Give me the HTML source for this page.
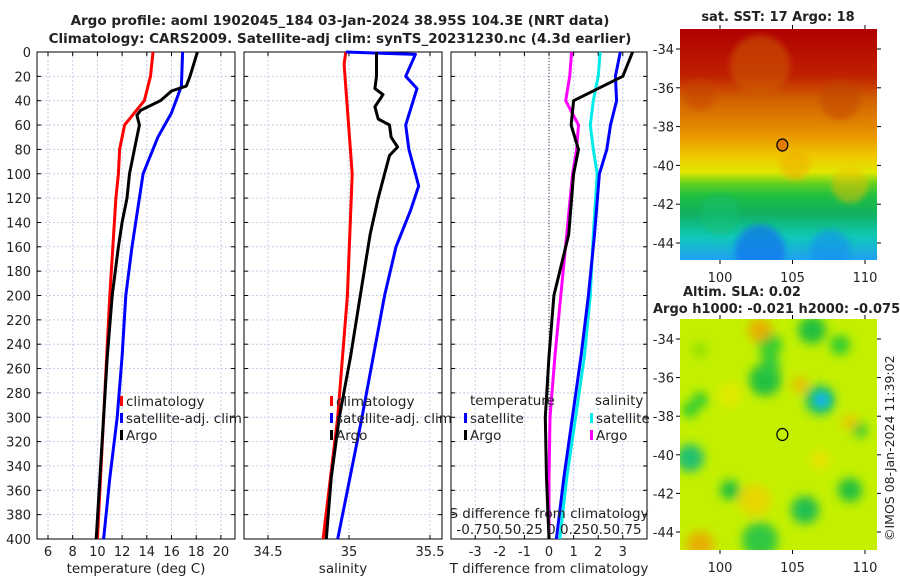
<!DOCTYPE html>
<html><head><meta charset="utf-8"><style>
body{margin:0;background:#fff;width:900px;height:580px;overflow:hidden;font-family:"DejaVu Sans","Liberation Sans",sans-serif}
svg text{font-family:"DejaVu Sans","Liberation Sans",sans-serif;fill:#222}
</style></head><body>
<svg id="s" width="900" height="580" viewBox="0 0 900 580" xmlns="http://www.w3.org/2000/svg">
<defs>
<clipPath id="c1"><rect x="680" y="29" width="197" height="231"/></clipPath>
<clipPath id="c2"><rect x="680" y="319" width="197" height="231"/></clipPath>
<filter id="bl" x="-20%" y="-20%" width="140%" height="140%"><feGaussianBlur stdDeviation="5"/></filter>
<filter id="bl2" x="-20%" y="-20%" width="140%" height="140%"><feGaussianBlur stdDeviation="3"/></filter>
</defs>
<text x="340" y="25" text-anchor="middle" font-size="13.5" font-weight="bold">Argo profile: aoml 1902045_184 03-Jan-2024 38.95S 104.3E (NRT data)</text>
<text x="340" y="43" text-anchor="middle" font-size="13.5" font-weight="bold">Climatology: CARS2009. Satellite-adj clim: synTS_20231230.nc (4.3d earlier)</text>
<g id="maps"></g>
</svg>
<script>
// ---- data ----
const depthTicks=[0,20,40,60,80,100,120,140,160,180,200,220,240,260,280,300,320,340,360,380,400];
const tTicks=[6,8,10,12,14,16,18,20];
const sTicks=[34.5,35,35.5];
const dTicks=[-3,-2,-1,0,1,2,3];
const climTdepth=[0,20,40,60,80,100,120,200,300,400];
const climT=[14.5,14.3,13.8,12.2,11.8,11.7,11.5,11.0,10.5,10.0];
const satTdepth=[0,28,50,70,100,120,160,200,250,300,350,400];
const satT=[16.9,16.8,16.0,14.9,13.7,13.4,12.8,12.3,12.0,11.6,11.0,10.5];
const argoTdepth=[0,20,28,32,40,48,52,60,80,100,120,140,160,200,250,300,350,400];
const argoT=[18.1,17.5,17.2,16.0,15.1,13.5,13.2,13.4,13.0,12.6,12.4,12.0,11.7,11.2,10.8,10.5,10.2,9.9];
const climSdepth=[0,10,100,200,300,400];
const climS=[34.98,34.97,35.02,34.99,34.93,34.84];
const satSdepth=[0,2,20,30,60,80,110,130,160,200,300,400];
const satS=[34.98,35.41,35.35,35.42,35.35,35.37,35.43,35.38,35.29,35.22,35.08,34.93];
const argoSdepth=[0,20,30,35,45,55,60,70,78,85,100,120,150,200,250,300,350,400];
const argoS=[35.17,35.17,35.16,35.21,35.16,35.18,35.25,35.26,35.30,35.25,35.22,35.18,35.13,35.07,35.01,34.94,34.89,34.86];
const diffDepth=[0,20,40,60,80,100,150,200,250,300,350,400];
const argoTdiff=[3.4,3.0,1.0,0.9,1.2,1.0,0.8,0.2,0.0,-0.15,-0.1,0.0];
const satTdiff=[2.9,2.7,2.75,2.5,2.35,2.05,1.85,1.6,1.3,0.95,0.6,0.3];
const satSdiff=[0.52,0.50,0.45,0.42,0.45,0.49,0.45,0.42,0.36,0.27,0.18,0.11];
const argoSdiff=[0.23,0.21,0.17,0.30,0.28,0.24,0.18,0.12,0.06,0.01,0.0,0.0];
const lonTicks=[100,105,110];
const latTicks=[-34,-36,-38,-40,-42,-44];
// ---- drawing ----
const S=document.getElementById('s');const NS='http://www.w3.org/2000/svg';
function el(t,a,p){const e=document.createElementNS(NS,t);for(const k in a)e.setAttribute(k,a[k]);(p||S).appendChild(e);return e;}
const Y0=52,Y1=539;const yD=d=>Y0+d*(Y1-Y0)/400;
const panels=[
 {x0:37,x1:235,fx:v=>48+(v-6)*12.35,ticks:tTicks,lab:'temperature (deg C)',name:'temperature'},
 {x0:244,x1:442,fx:v=>268+(v-34.5)*162,ticks:sTicks,lab:'salinity',name:'salinity'},
 {x0:451,x1:647,fx:v=>549+v*24.6,ticks:dTicks,lab:'T difference from climatology',name:'difference'}];
panels.forEach((p,i)=>{
 const g=el('g',{});
 
 
 depthTicks.forEach(d=>{el('line',{x1:p.x0,x2:p.x1,y1:yD(d),y2:yD(d),stroke:'#c8cde8','stroke-dasharray':'2,2'},g);
  el('line',{x1:p.x0,x2:p.x0+4,y1:yD(d),y2:yD(d),stroke:'#000'},g);el('line',{x1:p.x1,x2:p.x1-4,y1:yD(d),y2:yD(d),stroke:'#000'},g);
  if(i==0){const t=el('text',{x:p.x0-6,y:yD(d)+5,'text-anchor':'end','font-size':13},g);t.textContent=d;}});
 p.ticks.forEach(v=>{const x=p.fx(v);el('line',{x1:x,x2:x,y1:Y0,y2:Y1,stroke:'#c8cde8','stroke-dasharray':'2,2'},g);
  el('line',{x1:x,x2:x,y1:Y1,y2:Y1-4,stroke:'#000'},g);el('line',{x1:x,x2:x,y1:Y0,y2:Y0+4,stroke:'#000'},g);
  const t=el('text',{x:x,y:556,'text-anchor':'middle','font-size':13},g);t.textContent=v;});
 el('rect',{x:p.x0,y:Y0,width:p.x1-p.x0,height:Y1-Y0,fill:'none',stroke:'#000'},g);
 const t=el('text',{x:(p.x0+p.x1)/2,y:573,'text-anchor':'middle','font-size':13.5},g);t.textContent=p.lab;
});
el('line',{x1:549,x2:549,y1:Y0,y2:Y1,stroke:'#333','stroke-dasharray':'1,2'});
function line(p,ds,vs,col,name,sc){const pts=ds.map((d,i)=>p.fx(vs[i]*(sc||1)).toFixed(1)+','+yD(d).toFixed(1)).join(' ');
 const e=el('polyline',{points:pts,fill:'none',stroke:col,'stroke-width':3,'stroke-linejoin':'round'});
 }
const [P1,P2,P3]=panels;
line(P1,climTdepth,climT,'#f00','climatology-temperature-line');
line(P1,satTdepth,satT,'#00f','satellite-temperature-line');
line(P1,argoTdepth,argoT,'#000','argo-temperature-line');
line(P2,climSdepth,climS,'#f00','climatology-salinity-line');
line(P2,satSdepth,satS,'#00f','satellite-salinity-line');
line(P2,argoSdepth,argoS,'#000','argo-salinity-line');
line(P3,diffDepth,satSdiff,'#00eaea','satellite-salinity-diff-line',4);
line(P3,diffDepth,satTdiff,'#00f','satellite-temperature-diff-line');
line(P3,diffDepth,argoSdiff,'#f0f','argo-salinity-diff-line',4);
line(P3,diffDepth,argoTdiff,'#000','argo-temperature-diff-line');
function leg(x,y,col,txt,name){el('rect',{x:x,y:y-9,width:3,height:10,fill:col});const t=el('text',{x:x+6,y:y+1,'font-size':13.5});t.textContent=txt;}
leg(120,405,'#f00','climatology','legend-climatology');leg(120,422,'#00f','satellite-adj. clim','legend-satellite');leg(120,439,'#000','Argo','legend-argo');
leg(330,405,'#f00','climatology','legend-climatology-s');leg(330,422,'#00f','satellite-adj. clim','legend-satellite-s');leg(330,439,'#000','Argo','legend-argo-s');
let tt=el('text',{x:470,y:405,'font-size':13.5});tt.textContent='temperature';
tt=el('text',{x:595,y:405,'font-size':13.5});tt.textContent='salinity';
leg(464,422,'#00f','satellite','legend-t-satellite');leg(464,439,'#000','Argo','legend-t-argo');
leg(590,422,'#00eaea','satellite','legend-s-satellite');leg(590,439,'#f0f','Argo','legend-s-argo');
tt=el('text',{x:549,y:518,'text-anchor':'middle','font-size':13.5});tt.textContent='S difference from climatology';
tt=el('text',{x:549,y:534,'text-anchor':'middle','font-size':13.5});tt.textContent='-0.750.50.25 0 0.250.50.75';
// ---- maps ----
const M=document.getElementById('maps');
function map(y0,y1,lat34,lat44,name,clip,bg){
 const g=el('g',{},M);
 const inner=el('g',{'clip-path':'url(#'+clip+')'},g);
 bg(inner);
 const fy=l=>lat34+(l+34)*(lat44-lat34)/(-10),fx=l=>720+(l-100)*14.5;
 latTicks.forEach(l=>{el('line',{x1:680-4,x2:680,y1:fy(l),y2:fy(l),stroke:'#000'},g);el('line',{x1:877,x2:881,y1:fy(l),y2:fy(l),stroke:'#000'},g);
  const t=el('text',{x:674,y:fy(l)+5,'text-anchor':'end','font-size':13},g);t.textContent=l;});
 lonTicks.forEach(l=>{el('line',{x1:fx(l),x2:fx(l),y1:y1,y2:y1+4,stroke:'#000'},g);el('line',{x1:fx(l),x2:fx(l),y1:y0-4,y2:y0,stroke:'#000'},g);
  const t=el('text',{x:fx(l),y:y1+22,'text-anchor':'middle','font-size':13},g);t.textContent=l;});
 el('ellipse',{cx:fx(104.3),cy:fy(-38.95),rx:5.5,ry:6,fill:name=='sst-map'?'#e07a00':'none',stroke:'#000','stroke-width':1.2},g);
}
map(29,260,49,243,'sst-map','c1',g=>{
 const d=el('defs',{},g);const lg=el('linearGradient',{id:'sst',x1:0,y1:0,x2:0,y2:1},d);
 [[0,'#b00000'],[0.2,'#c02000'],[0.3,'#d06000'],[0.45,'#e89000'],[0.55,'#f0c800'],[0.62,'#e0e800'],[0.67,'#60d020'],[0.72,'#20c040'],[0.8,'#10b060'],[0.9,'#10c8b8'],[1,'#20a0f0']].forEach(s=>el('stop',{offset:s[0],'stop-color':s[1]},lg));
 el('rect',{x:680,y:29,width:197,height:231,fill:'url(#sst)'},g);
 const b=el('g',{filter:'url(#bl2)'},g);
 [[760,65,30,'#d06000',0.5],[840,100,20,'#c04000',0.5],[700,95,15,'#c84000',0.5],[795,165,15,'#f0b000',0.6],[850,185,18,'#f0c000',0.5],[720,215,20,'#10c070',0.5],[760,250,25,'#1070f0',0.7],[830,250,20,'#1890f0',0.6]].forEach(c=>el('circle',{cx:c[0],cy:c[1],r:c[2],fill:c[3],opacity:c[4]},b));
});
map(319,550,339,532,'sla-map','c2',g=>{
 el('rect',{x:680,y:319,width:197,height:231,fill:'#c4f000'},g);
 const b=el('g',{filter:'url(#bl)'},g);
 [[700,400,8,'#30cc30'],[765,380,16,'#20c040'],[770,345,12,'#30cc30'],[812,330,14,'#20c040'],[840,345,10,'#30cc30'],[820,400,15,'#20c070'],[770,365,10,'#30c840'],[690,410,8,'#30cc30'],[730,490,10,'#20c040'],[805,510,14,'#20c050'],[760,540,18,'#30c840'],[850,490,12,'#20c040'],[690,458,14,'#20c070'],[860,430,8,'#40cc30'],[700,350,8,'#90e000']].forEach(c=>el('circle',{cx:c[0],cy:c[1],r:c[2],fill:c[3]},b));
 [[760,330,12,'#f0a000'],[800,385,8,'#f0b000'],[700,545,14,'#f0a000'],[755,500,16,'#f0d000'],[850,422,8,'#f0c000'],[820,460,10,'#f0e000'],[730,395,12,'#e8e800']].forEach(c=>el('circle',{cx:c[0],cy:c[1],r:c[2],fill:c[3],opacity:0.8},b));
 el('circle',{cx:822,cy:400,r:9,fill:'#20c0b0',filter:'url(#bl2)'},g);el('circle',{cx:821,cy:400,r:4,fill:'#10b0f0',filter:'url(#bl2)'},g);
});
[[778,21,'sat. SST: 17 Argo: 18','sst-map-title'],[683,296,'Altim. SLA: 0.02','sla-title'],[653,313,'Argo h1000: -0.021 h2000: -0.075','argo-height-title']].forEach(a=>{
 const t=el('text',{x:a[0],y:a[1],'text-anchor':a[3]=='sst-map-title'?'middle':'start','font-size':13,'font-weight':'bold'});t.textContent=a[2];});
const c=el('text',{x:0,y:0,'font-size':12.5,transform:'translate(894,541) rotate(-90)'});c.textContent='©IMOS 08-Jan-2024 11:39:02';

</script>
</body></html>
